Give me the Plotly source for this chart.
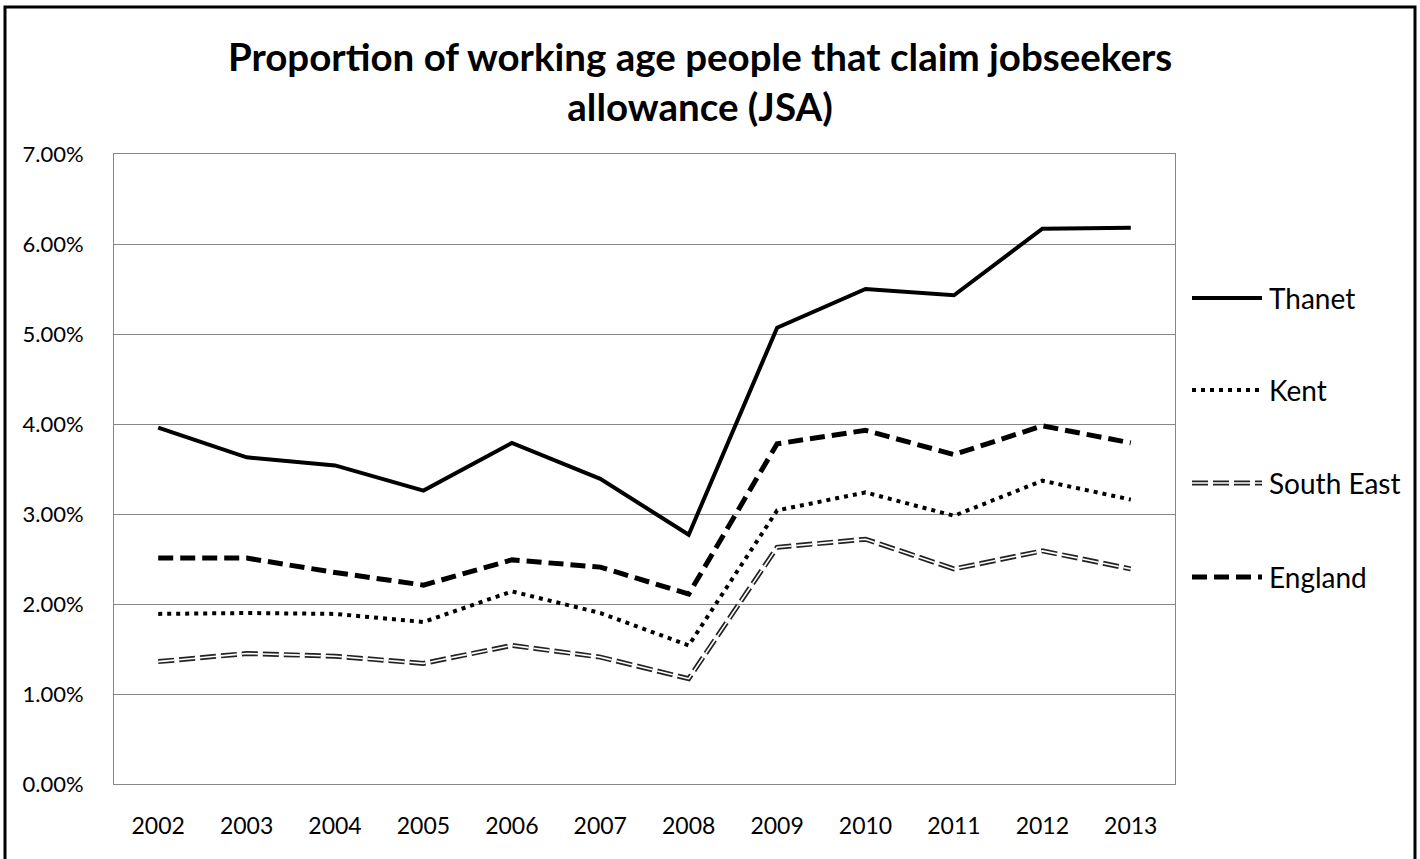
import plotly.graph_objects as go

# Jobseekers allowance claimants as a share of the working-age population
years = ["2002", "2003", "2004", "2005", "2006", "2007",
         "2008", "2009", "2010", "2011", "2012", "2013"]
thanet = [0.0396, 0.0363, 0.0354, 0.0326, 0.0379, 0.0339,
          0.0277, 0.0507, 0.0550, 0.0543, 0.0617, 0.0618]
kent = [0.0189, 0.0190, 0.0189, 0.0180, 0.0214, 0.0190,
        0.0154, 0.0304, 0.0324, 0.0298, 0.0337, 0.0316]
south_east = [0.0136, 0.0145, 0.0142, 0.0134, 0.0154, 0.0141,
              0.0117, 0.0263, 0.0272, 0.0239, 0.0259, 0.0239]
england = [0.0251, 0.0251, 0.0235, 0.0221, 0.0249, 0.0241,
           0.0211, 0.0378, 0.0393, 0.0366, 0.0398, 0.0379]

W, H = 1420, 859
L, R, T, B = 114, 1175, 154, 784  # plot area in pixels
FONT = "Lato"


def px(x):
    return (x - L) / (R - L)


def py(y):
    return (B - y) / (B - T)


styles = {
    "Thanet": [dict(color="black", width=4, dash="solid")],
    "Kent": [dict(color="black", width=4, dash="4px,5px")],
    "South East": [dict(color="#222222", width=5, dash="16px,5px"),
                   dict(color="white", width=1.6, dash="16px,5px")],
    "England": [dict(color="black", width=5, dash="15px,7px")],
}
series = {"Thanet": thanet, "Kent": kent,
          "South East": south_east, "England": england}

fig = go.Figure()
for name, vals in series.items():
    for ln in styles[name]:
        fig.add_trace(go.Scatter(x=years, y=vals, mode="lines", name=name,
                                 line=ln, showlegend=False,
                                 hoverinfo="x+y+name"))

# Legend drawn alongside the plot area
legend_rows = [("Thanet", 298), ("Kent", 390), ("South East", 483), ("England", 577)]
shapes = []
annotations = []
for name, yy in legend_rows:
    for ln in styles[name]:
        shapes.append(dict(type="line", xref="paper", yref="paper",
                           x0=px(1192), x1=px(1262), y0=py(yy), y1=py(yy),
                           line=ln))
    annotations.append(dict(text=name, xref="paper", yref="paper",
                            x=px(1267), y=py(yy), xanchor="left", yanchor="middle",
                            showarrow=False,
                            font=dict(family=FONT, size=28, color="black")))

# Outer chart border
shapes.append(dict(type="rect", xref="paper", yref="paper",
                   x0=px(5), x1=px(1415), y0=py(7), y1=py(866),
                   line=dict(color="black", width=3), fillcolor="rgba(0,0,0,0)",
                   layer="above"))

fig.update_layout(
    width=W, height=H,
    margin=dict(l=L, r=W - R, t=T, b=H - B),
    paper_bgcolor="white", plot_bgcolor="white",
    title=dict(text="Proportion of working age people that claim jobseekers<br>allowance (JSA)",
               x=0.493, xref="container", xanchor="center",
               y=1 - 71 / H, yanchor="middle",
               font=dict(family=FONT, size=38.5, color="black", weight="bold")),
    xaxis=dict(type="category", range=[-0.5, 11.5], showgrid=False,
               showline=True, linecolor="#868686", linewidth=1, mirror=True,
               ticks="", ticklabelstandoff=21,
               tickfont=dict(family=FONT, size=23, color="black")),
    yaxis=dict(range=[0, 0.07], dtick=0.01, tickformat=".2%",
               showgrid=True, gridcolor="#868686", gridwidth=1,
               showline=True, linecolor="#868686", linewidth=1, mirror=True,
               zeroline=False, ticks="", ticklabelstandoff=25,
               tickfont=dict(family=FONT, size=22, color="black")),
    shapes=shapes, annotations=annotations,
)

fig.write_html("out.html")
